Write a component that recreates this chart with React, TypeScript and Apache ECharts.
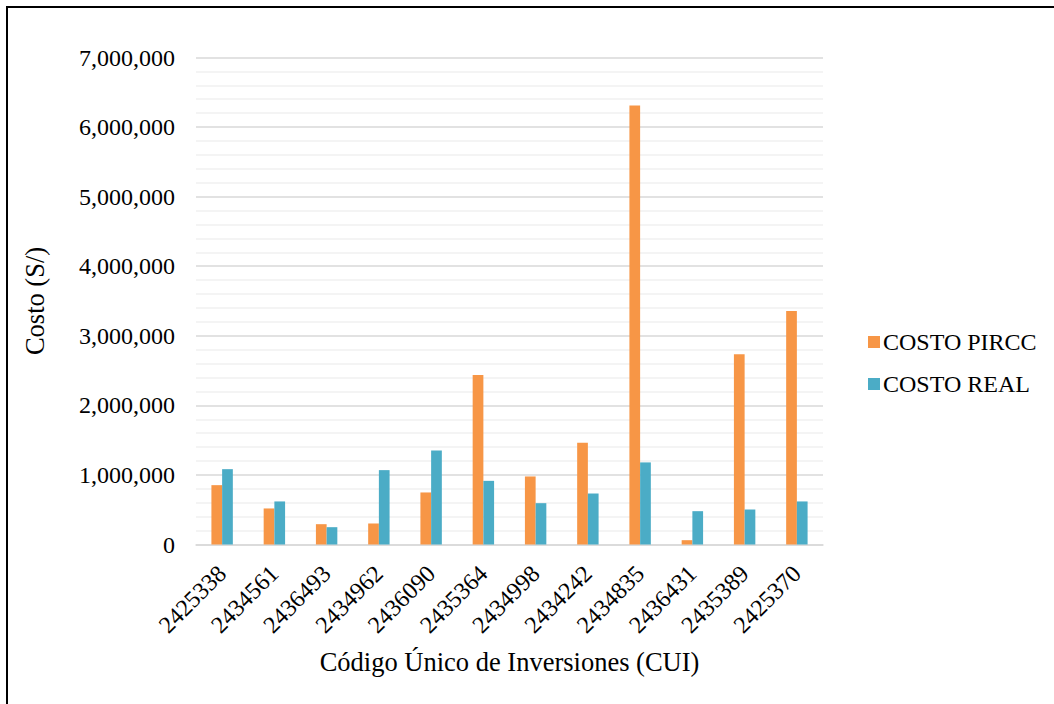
import React, { useEffect, useRef } from "react";
import * as echarts from "echarts";

const categories = [
  "2425338", "2434561", "2436493", "2434962", "2436090", "2435364",
  "2434998", "2434242", "2434835", "2436431", "2435389", "2425370",
];
const costoPircc = [853000, 518000, 292000, 302000, 748000, 2436000, 978000, 1462000, 6311000, 62000, 2734000, 3357000];
const costoReal = [1083000, 619000, 249000, 1069000, 1352000, 915000, 594000, 733000, 1180000, 479000, 503000, 619000];
const seriesNames = ["COSTO PIRCC", "COSTO REAL"];
const colors = ["#F79646", "#4BACC6"];
const yAxisName = "Costo (S/)";
const xAxisName = "Código Único de Inversiones (CUI)";

const FONT = "'Liberation Serif', 'Times New Roman', serif";

export default function App() {
  const ref = useRef<HTMLDivElement>(null);
  useEffect(() => {
    if (!ref.current) return;
    const chart = echarts.init(ref.current, undefined, { renderer: "svg" });
    chart.setOption({
      animation: false,
      backgroundColor: "#ffffff",
      textStyle: { fontFamily: FONT },
      grid: { left: 196, right: 231, top: 57.5, bottom: 159.5, containLabel: false },
      legend: {
        orient: "vertical",
        left: 863,
        top: 325,
        itemWidth: 12,
        itemHeight: 12,
        itemGap: 18,
        icon: "rect",
        textStyle: { fontFamily: FONT, fontSize: 24, color: "#000", lineHeight: 24, padding: [0, 0, 0, -2] },
        data: seriesNames,
      },
      xAxis: {
        type: "category",
        data: categories,
        name: xAxisName,
        nameLocation: "middle",
        nameGap: 104,
        nameTextStyle: { fontFamily: FONT, fontSize: 26.5, color: "#000" },
        axisLine: { lineStyle: { color: "#d9d9d9", width: 1.5 } },
        axisTick: { show: false },
        axisLabel: { rotate: 45, fontFamily: FONT, fontSize: 24, color: "#000", margin: 25, interval: 0 },
      },
      yAxis: {
        type: "value",
        min: 0,
        max: 7000000,
        interval: 1000000,
        name: yAxisName,
        nameLocation: "middle",
        nameGap: 148,
        nameTextStyle: { fontFamily: FONT, fontSize: 26.5, color: "#000" },
        axisLine: { show: false },
        axisTick: { show: false },
        axisLabel: {
          fontFamily: FONT,
          fontSize: 24,
          color: "#000",
          margin: 21,
          formatter: (v: number) => v.toLocaleString("en-US"),
        },
        splitLine: { lineStyle: { color: "#d9d9d9", width: 1.5 } },
        minorTick: { show: false, splitNumber: 5 },
        minorSplitLine: { show: true, lineStyle: { color: "#f0f0f0", width: 1.5 } },
      },
      series: [
        {
          name: seriesNames[0],
          type: "bar",
          data: costoPircc,
          barWidth: "20.5%",
          barGap: "0%",
          itemStyle: { color: colors[0] },
        },
        {
          name: seriesNames[1],
          type: "bar",
          data: costoReal,
          barWidth: "20.5%",
          barGap: "0%",
          itemStyle: { color: colors[1] },
        },
      ],
      graphic: [
        { type: "line", shape: { x1: 6, y1: 7, x2: 1054, y2: 7 }, style: { stroke: "#000", lineWidth: 2 } },
        { type: "line", shape: { x1: 7, y1: 6, x2: 7, y2: 704 }, style: { stroke: "#000", lineWidth: 2 } },
      ],
    });
    return () => chart.dispose();
  }, []);
  return (
    <div
      ref={ref}
      style={{ position: "absolute", left: 0, top: 0, width: 1054, height: 704 }}
    />
  );
}
